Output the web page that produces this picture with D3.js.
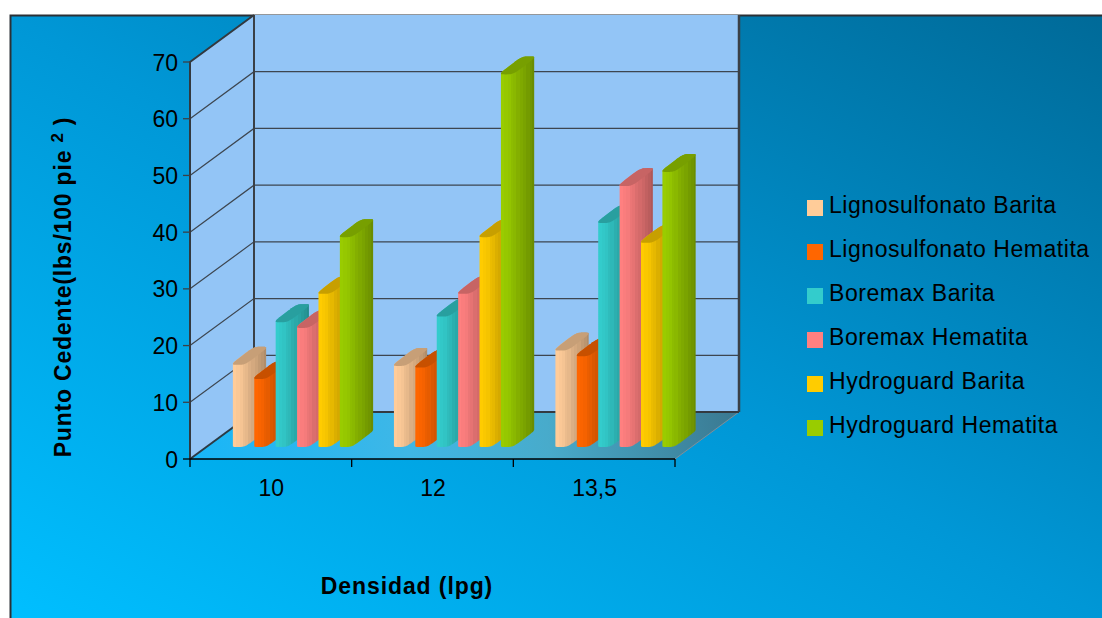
<!DOCTYPE html>
<html>
<head>
<meta charset="utf-8">
<style>
html,body{margin:0;padding:0;background:#fff;overflow:hidden}
svg{display:block}
text{font-family:"Liberation Sans",Arial,sans-serif;fill:#000}
</style>
<script src="https://cdn.jsdelivr.net/npm/d3@7/dist/d3.min.js"></script>
</head>
<body>
<script>
// Yield point by density for each drilling-fluid formulation
const densities = ["10", "12", "13,5"];
const seriesNames = ["Lignosulfonato Barita", "Lignosulfonato Hematita", "Boremax Barita", "Boremax Hematita", "Hydroguard Barita", "Hydroguard Hematita"];
const seriesColors = ["#FFCC99", "#FF6600", "#33CCCC", "#FF8080", "#FFCC00", "#99CC00"];
const ligBarita = [14.5, 14.3, 17];
const ligHematita = [12, 14, 16];
const boreBarita = [22, 23, 39.5];
const boreHematita = [21, 27, 46];
const hydroBarita = [27, 37, 36];
const hydroHematita = [37, 65.7, 48.5];
const seriesValues = [ligBarita, ligHematita, boreBarita, boreHematita, hydroBarita, hydroHematita];
const yTicks = [0, 10, 20, 30, 40, 50, 60, 70];

const W = 1102, H = 618;
const svg = d3.select("body").append("svg").attr("width", W).attr("height", H);
const defs = svg.append("defs");

// Oblique projection of the plot box
const plot = {left: 190, right: 675, bottom: 459, top: 62, dx: 64, dy: -47};
const x = d3.scaleBand().domain(densities).range([plot.left, plot.right]);
const y = d3.scaleLinear().domain([0, 70]).range([plot.bottom, plot.top]);
const barStep = 21.4, barW = 15, barDX = 23.6, barDY = -18, barLift = 12, groupInset = 43;
const barX = d3.scaleBand().domain(seriesNames).range([0, barStep * 6]);

// Chart background
const bg = defs.append("linearGradient").attr("id", "bg").attr("gradientUnits", "userSpaceOnUse")
  .attr("x1", 301).attr("y1", 778).attr("x2", 811).attr("y2", -146);
[[0, "#00BFFF"], [.5, "#0097D6"], [1, "#006A98"]].forEach(s =>
  bg.append("stop").attr("offset", s[0]).attr("stop-color", s[1]));
svg.append("rect").attr("x", 10).attr("y", 15).attr("width", W).attr("height", H).attr("fill", "url(#bg)");
svg.append("path").attr("d", `M10.5,${H}V15.5H${W}`).attr("fill", "none").attr("stroke", "#2a3036").attr("stroke-width", 2);

// Floor
const floorGrad = defs.append("linearGradient").attr("id", "floor").attr("gradientUnits", "userSpaceOnUse")
  .attr("x1", 190).attr("y1", 459).attr("x2", 739).attr("y2", 412);
[[0, "#17B6F8"], [.4, "#3FB7E6"], [.65, "#48ABCB"], [1, "#3A7890"]].forEach(s =>
  floorGrad.append("stop").attr("offset", s[0]).attr("stop-color", s[1]));

const walls = svg.append("g");
walls.append("path")
  .attr("d", `M${plot.left},${plot.bottom}L${plot.left + plot.dx},${plot.bottom + plot.dy}H${plot.right + plot.dx}L${plot.right},${plot.bottom}Z`)
  .attr("fill", "url(#floor)");
walls.append("path")
  .attr("d", `M${plot.right},${plot.bottom}L${plot.right + plot.dx},${plot.bottom + plot.dy}`)
  .attr("stroke", "#7f8f99").attr("stroke-width", 1).attr("fill", "none");

// Back and side walls
walls.append("path")
  .attr("d", `M${plot.left},${plot.bottom}V${plot.top}L${plot.left + plot.dx},${plot.top + plot.dy}V${plot.bottom + plot.dy}Z`)
  .attr("fill", "#93C5F6");
walls.append("rect")
  .attr("x", plot.left + plot.dx).attr("y", plot.top + plot.dy)
  .attr("width", plot.right - plot.left).attr("height", plot.bottom - plot.top)
  .attr("fill", "#93C5F6");

// Gridlines on both walls
walls.selectAll("path.grid").data(yTicks.slice(1, -1)).join("path")
  .attr("class", "grid")
  .attr("d", d => `M${plot.left},${y(d)}L${plot.left + plot.dx},${y(d) + plot.dy}H${plot.right + plot.dx}`)
  .attr("fill", "none").attr("stroke", "#3d4650").attr("stroke-width", 1.2);
walls.append("path")
  .attr("d", `M${plot.left + plot.dx},${plot.bottom + plot.dy}H${plot.right + plot.dx}`)
  .attr("stroke", "#333a40").attr("stroke-width", 2).attr("fill", "none");
walls.append("path")
  .attr("d", `M${plot.left + plot.dx},${plot.bottom + plot.dy}V${plot.top + plot.dy}`)
  .attr("stroke", "#3a4046").attr("stroke-width", 2).attr("fill", "none");
walls.append("path")
  .attr("d", `M${plot.right + plot.dx},${plot.top + plot.dy}V${plot.bottom + plot.dy}`)
  .attr("stroke", "#3a4046").attr("stroke-width", 2.5).attr("fill", "none");
walls.append("path")
  .attr("d", `M${plot.left},${plot.bottom}V${plot.top}L${plot.left + plot.dx},${plot.top + plot.dy}`)
  .attr("stroke", "#33393f").attr("stroke-width", 2).attr("fill", "none");
walls.append("path")
  .attr("d", `M${plot.left},${plot.bottom}L${plot.left + plot.dx},${plot.bottom + plot.dy}`)
  .attr("stroke", "#2c3a44").attr("stroke-width", 2).attr("fill", "none");

// Stepped shading across each column: lit on the left, dark on the right
const shadeStops = [0, .1, .2, .3, .36, .46, .56, .66, .76, .86, .94, 1];
const shadeDark = [0, .02, .04, .08, .1, .14, .17, .2, .24, .27, .31];
seriesColors.forEach((c, i) => {
  const g = defs.append("linearGradient").attr("id", "shade" + i);
  shadeDark.forEach((d, k) => {
    const col = d3.interpolateRgb(c, "#000")(d);
    g.append("stop").attr("offset", shadeStops[k]).attr("stop-color", col);
    g.append("stop").attr("offset", shadeStops[k + 1]).attr("stop-color", col);
  });
});

// Rounded cross-section outline of a column, skewed along the depth direction
function outline(x0, yFront) {
  const cx = x0 + 16.5, cy = yFront + barDY / 2, n = 0.45;
  const sp = t => Math.sign(t) * Math.pow(Math.abs(t), n);
  return d3.range(0, 72).map(k => {
    const a = k / 72 * 2 * Math.PI;
    const u = sp(Math.cos(a)), v = sp(Math.sin(a));
    return [cx + u * barW / 2 + v * barDX / 2, cy + v * barDY / 2];
  });
}
const line = d3.line().curve(d3.curveLinearClosed);

// Columns: painted per category, series in order so later ones overlap earlier ones
const bars = svg.append("g");
densities.forEach((cat, ci) => {
  seriesNames.forEach((name, si) => {
    const v = seriesValues[si][ci];
    const x0 = x(cat) + groupInset + barX(name) - (ci === 0 ? 0 : ci === 1 ? 0.6 : 0.8);
    const yBase = y(0) - barLift, yTop = y(v) - barLift;
    const g = bars.append("g");
    const base = outline(x0, yBase), top = outline(x0, yTop);
    // Column body is the hull of the base outline and the top outline
    const hull = d3.polygonHull(base.concat(top));
    g.append("path").attr("d", line(hull)).attr("fill", `url(#shade${si})`);
    g.append("path").attr("d", line(top)).attr("fill", d3.interpolateRgb(seriesColors[si], "#000")(0.22));
  });
});

// Value axis
const ax = svg.append("g").attr("font-size", 23);
yTicks.forEach(t => {
  ax.append("line").attr("x1", 183).attr("x2", plot.left).attr("y1", y(t)).attr("y2", y(t))
    .attr("stroke", t === 0 ? "#000" : "#3a4046").attr("stroke-width", 1.3);
  ax.append("text").attr("x", 178).attr("y", y(t) + 8.5).attr("text-anchor", "end").text(t);
});

// Category axis
const catAxis = svg.append("g");
catAxis.append("line").attr("x1", plot.left).attr("x2", plot.right).attr("y1", y(0)).attr("y2", y(0))
  .attr("stroke", "#000").attr("stroke-width", 1.5);
x.domain().concat(["end"]).forEach(c => {
  const px = c === "end" ? plot.right : x(c);
  catAxis.append("line").attr("x1", px).attr("x2", px).attr("y1", y(0)).attr("y2", y(0) + 8)
    .attr("stroke", "#000").attr("stroke-width", 1.3);
});
catAxis.selectAll("text").data(densities).join("text")
  .attr("x", d => x(d) + x.bandwidth() / 2 + 0.5).attr("y", 496).attr("text-anchor", "middle")
  .attr("font-size", 23).text(d => d);

// Axis titles
svg.append("text").attr("x", 407).attr("y", 594).attr("text-anchor", "middle")
  .attr("font-size", 23).attr("letter-spacing", 0.9).attr("font-weight", "bold").text("Densidad (lpg)");
const yTitle = svg.append("text").attr("transform", "translate(71,287) rotate(-90)")
  .attr("text-anchor", "middle").attr("font-size", 23).attr("letter-spacing", 0.8).attr("font-weight", "bold");
yTitle.append("tspan").text("Punto Cedente(lbs/100 pie ");
yTitle.append("tspan").attr("font-size", 17).attr("dy", -8).text("2");
yTitle.append("tspan").attr("dy", 8).text(" )");

// Legend
const legend = svg.append("g");
const legY = d3.scalePoint().domain(seriesNames).range([204, 424]);
seriesNames.forEach((name, i) => {
  legend.append("rect").attr("x", 807).attr("y", legY(name) - 4).attr("width", 16).attr("height", 16)
    .attr("fill", seriesColors[i]);
  legend.append("text").attr("x", 829).attr("y", legY(name) + 8.5).attr("font-size", 23)
    .attr("letter-spacing", 0.55).text(name);
});
</script>
</body>
</html>
